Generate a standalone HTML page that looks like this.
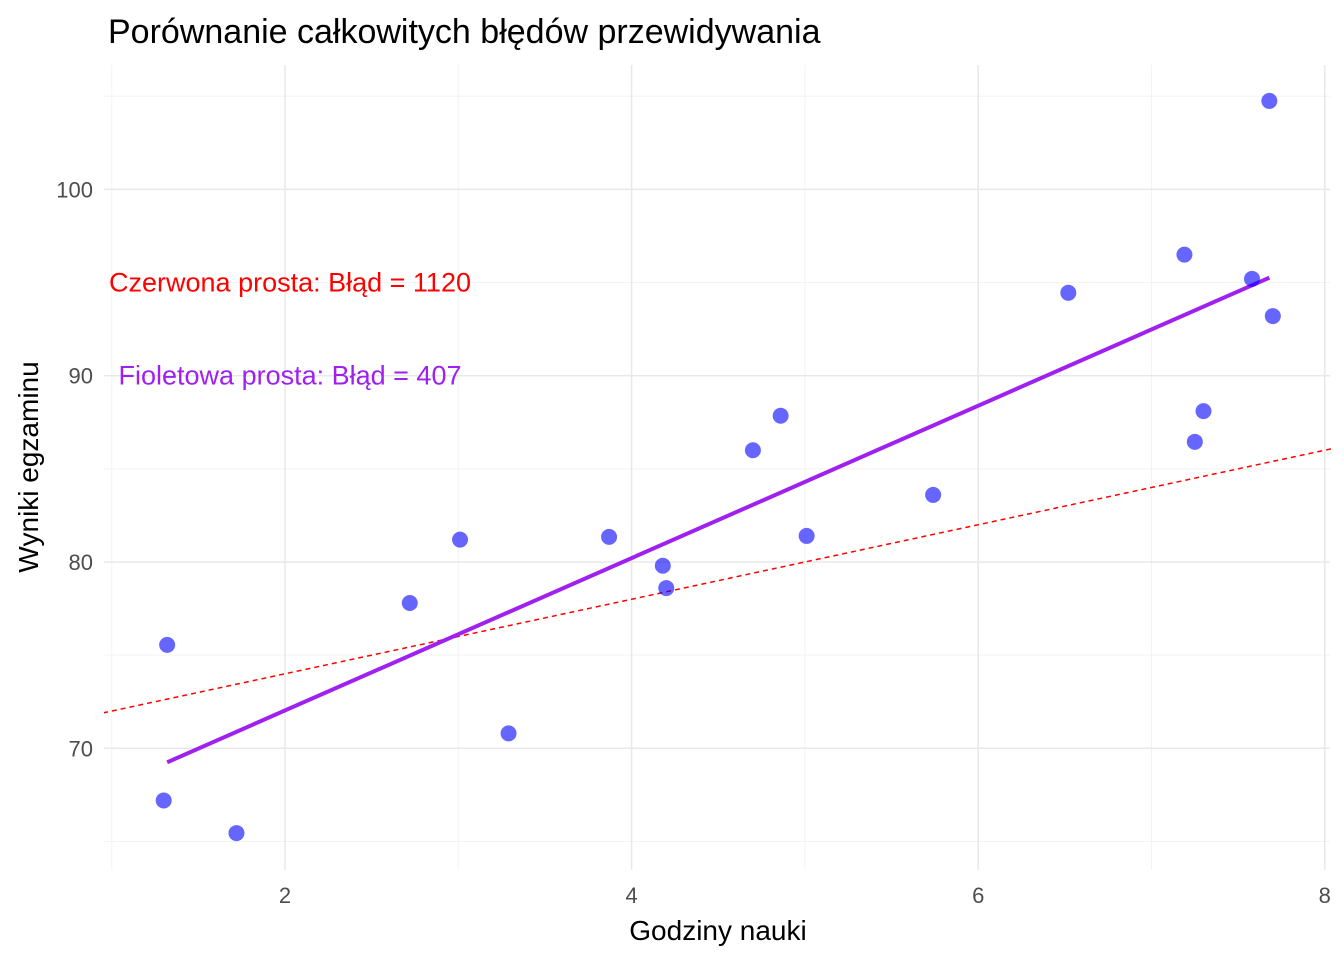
<!DOCTYPE html>
<html><head><meta charset="utf-8"><style>
body{margin:0;background:#fff;}
svg text{font-family:"Liberation Sans",sans-serif;}
</style></head><body>
<svg id="chart" width="1344" height="960">
<defs><clipPath id="panel"><rect x="104" y="60" width="1230" height="815"/></clipPath></defs>
<text x="108" y="43" font-size="34" fill="#000">Porównanie całkowitych błędów przewidywania</text>
<g id="grid"></g>
<g id="ticks"></g>
<g id="marks" clip-path="url(#panel)"></g>
<text x="718" y="940" font-size="28" text-anchor="middle">Godziny nauki</text>
<text transform="translate(38,467) rotate(-90)" font-size="28" text-anchor="middle">Wyniki egzaminu</text>
</svg>
<script>
const xs=[1.32,1.30,1.72,2.72,3.01,3.29,3.87,4.18,4.20,4.70,4.86,5.01,5.74,6.52,7.19,7.25,7.30,7.58,7.68,7.70];
const ys=[75.55,67.2,65.45,77.8,81.2,70.8,81.35,79.8,78.6,86.0,87.85,81.4,83.6,94.45,96.5,86.45,88.1,95.2,104.75,93.2];
const xTicks=[2,4,6,8];
const yTicks=[70,80,90,100];
const xMinor=[1,3,5,7];
const yMinor=[65,75,85,95,105];
const redLine=[2,70];      // slope, intercept
const purpleLine=[4.09,63.85];
const purpleRange=[1.32,7.68];
const labels=["Czerwona prosta: Błąd = 1120","Fioletowa prosta: Błąd = 407"];
const labelY=[95,90];
const labelX=2;

const X=v=>111.7+(v-1)*173.3;
const Y=v=>562-(v-80)*18.63;
const NS="http://www.w3.org/2000/svg";
function mk(parent,tag,attrs){const e=document.createElementNS(NS,tag);for(const k in attrs)e.setAttribute(k,attrs[k]);parent.appendChild(e);return e;}
const grid=document.getElementById('grid'),ticks=document.getElementById('ticks'),marks=document.getElementById('marks');
const L=104,R=1330,T=65,B=870;
xMinor.forEach(v=>{const l=mk(grid,'line',{x1:X(v),x2:X(v),y1:T,y2:B,stroke:'#f3f3f3','stroke-width':1});

});
yMinor.forEach(v=>{const l=mk(grid,'line',{x1:L,x2:R,y1:Y(v),y2:Y(v),stroke:'#f3f3f3','stroke-width':1});

});
xTicks.forEach(v=>{const l=mk(grid,'line',{x1:X(v),x2:X(v),y1:T,y2:B,stroke:'#e8e8e8','stroke-width':1.5});


const t=mk(ticks,'text',{x:X(v),y:903,'font-size':22,fill:'#4d4d4d','text-anchor':'middle'});t.textContent=v;

});
yTicks.forEach(v=>{const l=mk(grid,'line',{x1:L,x2:R,y1:Y(v),y2:Y(v),stroke:'#e8e8e8','stroke-width':1.5});


const t=mk(ticks,'text',{x:93,y:Y(v)+8,'font-size':22,fill:'#4d4d4d','text-anchor':'end'});t.textContent=v;

});
const rl=mk(marks,'line',{x1:X(0.95),y1:Y(redLine[1]+redLine[0]*0.95),x2:X(8.1),y2:Y(redLine[1]+redLine[0]*8.1),stroke:'#ff0000','stroke-width':1.5,'stroke-dasharray':'5,4'});


const pl=mk(marks,'line',{x1:X(purpleRange[0]),y1:Y(purpleLine[1]+purpleLine[0]*purpleRange[0]),x2:X(purpleRange[1]),y2:Y(purpleLine[1]+purpleLine[0]*purpleRange[1]),stroke:'#a020f0','stroke-width':4});


xs.forEach((v,i)=>{const c=mk(marks,'circle',{cx:X(v),cy:Y(ys[i]),r:8,fill:'rgba(0,0,255,0.6)'});

});
const colors=['#ff0000','#a020f0'];
labels.forEach((s,i)=>{const t=mk(marks,'text',{x:X(labelX)+5,y:Y(labelY[i])+9,'font-size':27,fill:colors[i],'text-anchor':'middle'});t.textContent=s;

});
</script>
</body></html>
